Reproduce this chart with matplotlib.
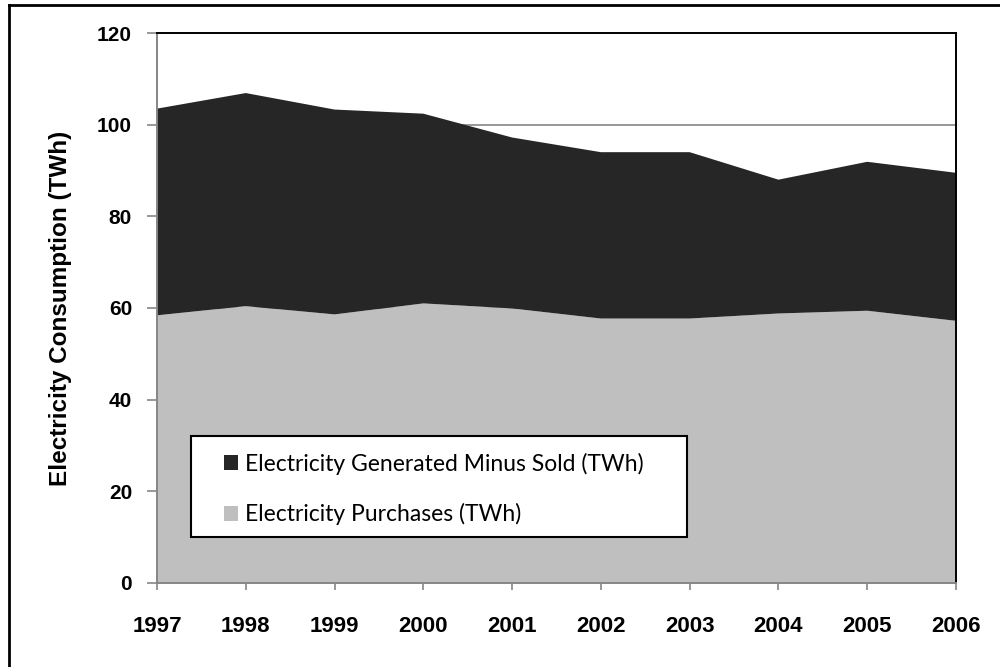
import numpy as np
import matplotlib
matplotlib.use('Agg')
import matplotlib.pyplot as plt
from matplotlib.patches import Patch, Rectangle
from matplotlib.lines import Line2D

years = [1997, 1998, 1999, 2000, 2001, 2002, 2003, 2004, 2005, 2006]
purchases = [58.4, 60.4, 58.6, 61.0, 59.9, 57.7, 57.7, 58.8, 59.4, 57.2]
generated_minus_sold = [45.1, 46.5, 44.7, 41.4, 37.3, 36.3, 36.3, 29.2, 32.5, 32.3]
labels = ['Electricity Generated Minus Sold (TWh)', 'Electricity Purchases (TWh)']
colors = ['#262626', '#bfbfbf']

plt.rcParams['font.family'] = ['Lato', 'DejaVu Sans']
bold_font = ['Liberation Sans', 'DejaVu Sans']

fig = plt.figure(figsize=(10, 6.67), dpi=100)
ax = fig.add_axes([0.157, 0.126, 0.799, 0.8245])

ax.stackplot(years, purchases, generated_minus_sold, colors=[colors[1], colors[0]], linewidth=0)

ax.set_xlim(1997, 2006)
ax.set_ylim(0, 120)
ax.set_yticks(range(0, 121, 20))
ax.set_xticks(years)
ax.set_xticklabels([str(y) for y in years], fontsize=16, fontweight='bold', family=bold_font)
ax.set_yticklabels([str(v) for v in range(0, 121, 20)], fontsize=15, fontweight='bold', family=bold_font)
ax.tick_params(axis='y', direction='out', length=7, width=1.2, color='#868686', pad=11)
ax.tick_params(axis='x', direction='out', length=5, width=1.2, color='#868686', pad=19)

ax.yaxis.grid(True, color='#868686', linewidth=1.2)
ax.set_axisbelow(True)
ax.spines['left'].set_color('#868686')
ax.spines['bottom'].set_color('#868686')
ax.spines['top'].set_color('black')
ax.spines['right'].set_color('black')
for s in ax.spines.values():
    s.set_linewidth(1.4)
    s.set_zorder(5)

ax.set_ylabel('Electricity Consumption (TWh)', fontsize=17.5, fontweight='bold',
              family=bold_font, labelpad=18)

# legend box drawn separately so its padding can match
box = Rectangle((191 / 1000, 1 - 537 / 667), 496 / 1000, 101 / 667, transform=fig.transFigure,
                facecolor='white', edgecolor='black', linewidth=1.5, zorder=4)
ax.add_patch(box)
box.set_clip_on(False)

handles = [Patch(facecolor=colors[0], edgecolor='none'), Patch(facecolor=colors[1], edgecolor='none')]
leg = ax.legend(handles, labels, loc='center left', bbox_to_anchor=(224 / 1000, 1 - 489 / 667),
                bbox_transform=fig.transFigure, frameon=False,
                handlelength=0.6, handleheight=0.6, handletextpad=0.3,
                labelspacing=1.25, borderpad=0, borderaxespad=0, fontsize=16.5)
leg.set_zorder(6)

# outer chart frame (only left and top edges are within the picture)
fig.add_artist(Line2D([9 / 1000, 9 / 1000], [0, 1 - 5 / 667], transform=fig.transFigure,
                      color='black', linewidth=2))
fig.add_artist(Line2D([9 / 1000, 1], [1 - 5 / 667, 1 - 5 / 667], transform=fig.transFigure,
                      color='black', linewidth=2))

fig.savefig('out.png', dpi=100)
